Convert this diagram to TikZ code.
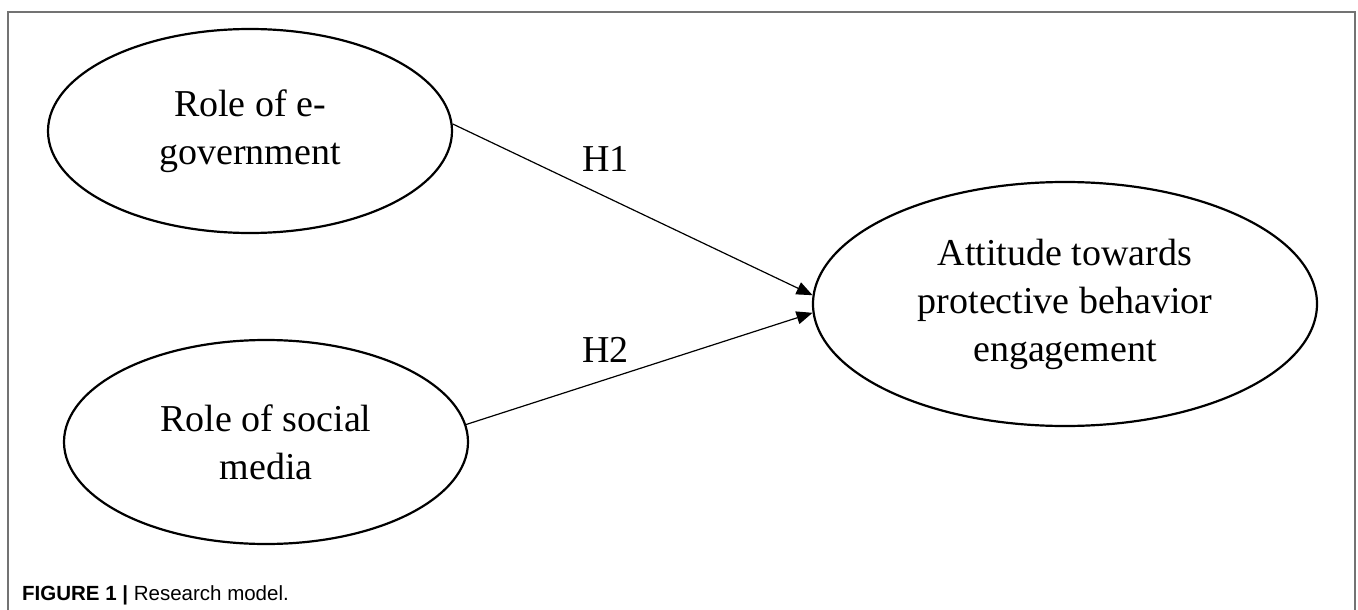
\documentclass[tikz,border=0pt]{standalone}
\usepackage{fontspec}
\setmainfont{Liberation Serif}
\newfontfamily\capfont{Liberation Sans}
\usetikzlibrary{shapes.geometric,arrows.meta}
\begin{document}
\begin{tikzpicture}[x=1pt,y=-1pt,
  construct/.style={ellipse,draw=black,line width=2.2pt,inner sep=0pt,align=center,
    font=\fontsize{38}{48}\selectfont},
  path/.style={line width=1.2pt,-{Triangle[length=16pt,width=13pt]}},
  hyp/.style={inner sep=0pt,anchor=base west,font=\fontsize{38}{48}\selectfont}]
\useasboundingbox (0,0) rectangle (1358,610);
\fill[white] (0,0) rectangle (1358,610);
\draw[line width=2pt,color=black!55] (8,611) -- (8,12) -- (1355,12) -- (1355,611);
\node[construct,minimum width=404pt,minimum height=204pt] (egov) at (250,131) {Role of e-\\government};
\node[construct,minimum width=404pt,minimum height=204pt] (social) at (266,442) {Role of social\\media};
\node[construct,minimum width=504pt,minimum height=244pt] (att) at (1065,304) {Attitude towards\\protective behavior\\engagement};
\draw[path] (egov.2.5) -- (att.178);
\draw[path] (social.5) -- (att.182);
\node[hyp] (h1) at (582,171) {H1};
\node[hyp] (h2) at (582,362) {H2};
\node[inner sep=0pt,anchor=base west,font=\capfont\fontsize{20.5}{24}\selectfont] (cap) at (22,600)
  {\textbf{FIGURE 1 |} Research model.};
\end{tikzpicture}
\end{document}
